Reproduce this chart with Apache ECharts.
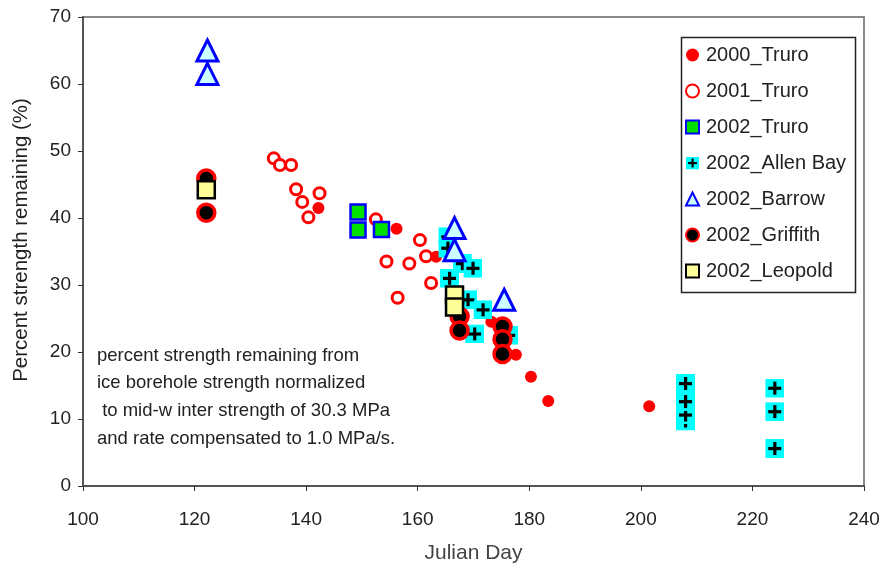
<!DOCTYPE html>
<html><head><meta charset="utf-8">
<script src="https://cdn.jsdelivr.net/npm/echarts@6/dist/echarts.min.js"></script>
<style>html,body{margin:0;padding:0;background:#fff}#c{width:887px;height:571px}</style>
</head><body><div id="c"></div>
<script>
// ---- data ----
const truro2000 = [[142.2,41.5],[156.2,38.4],[163.3,34.2],[173.2,24.5],[177.6,19.6],[180.3,16.3],[183.4,12.7],[201.5,11.9]];
const truro2001 = [[134.2,48.9],[135.3,47.9],[137.3,47.9],[138.2,44.3],[139.3,42.4],[142.4,43.7],[140.4,40.1],[152.5,39.8],[160.4,36.7],[161.5,34.3],[154.4,33.5],[158.5,33.2],[162.4,30.3],[156.4,28.1]];
const truro2002 = [[149.3,40.9],[149.3,38.2],[153.5,38.3]];
const allenBay = [[165.4,37.2],[165.4,35.5],[168,33.2],[169.9,32.5],[165.7,31.0],[169,27.8],[171.7,26.3],[170.2,22.7],[176.3,22.5],[208,9.7],[208,10.6],[208,13.7],[208,12.6],[208,15.3],[224,14.6],[224,11.1],[224,5.6]];
const barrow = [[122.3,65.0],[122.3,61.5],[166.6,38.5],[166.6,35.2],[175.5,27.8]];
const griffith = [[122.1,45.9],[122.1,40.8],[167.5,25.3],[167.5,23.2],[175.2,23.8],[175.2,21.9],[175.2,19.7]];
const leopold = [[122.1,44.2],[166.6,28.5],[166.6,26.7]];
const seriesNames = ['2000_Truro','2001_Truro','2002_Truro','2002_Allen Bay','2002_Barrow','2002_Griffith','2002_Leopold'];
const xTicks = {min:100, max:240, interval:20};
const yTicks = {min:0, max:70, interval:10};
const xTitle = 'Julian Day';
const yTitle = 'Percent strength remaining (%)';
const noteLines = ['percent strength remaining from','ice borehole strength normalized',' to mid-w inter strength of 30.3 MPa','and rate compensated to 1.0 MPa/s.'];

const FONT = '"Liberation Sans", Arial, sans-serif';
const plusSvg = '<svg xmlns="http://www.w3.org/2000/svg" width="19" height="19" viewBox="0 0 19 19"><rect x="0" y="0" width="19" height="19" fill="#00ffff"/><rect x="3" y="8" width="13" height="3.2" fill="#000"/><rect x="8" y="3" width="3.2" height="13" fill="#000"/></svg>';
const plusSym = 'image://data:image/svg+xml;charset=utf-8,' + encodeURIComponent(plusSvg);

const chart = echarts.init(document.getElementById('c'), null, {renderer:'canvas'});
chart.setOption({
  animation:false,
  backgroundColor:'#fff',
  grid:{left:83, right:23, top:17, bottom:85, show:true, borderColor:'#8a8a8a', borderWidth:2},
  xAxis:{type:'value', min:xTicks.min, max:xTicks.max, interval:xTicks.interval,
    name:xTitle, nameLocation:'middle', nameGap:57,
    nameTextStyle:{fontFamily:FONT, fontSize:21, color:'#444'},
    axisLine:{show:true, onZero:false, lineStyle:{color:'#555', width:2}},
    axisTick:{show:true, length:5, lineStyle:{color:'#333'}},
    axisLabel:{fontFamily:FONT, fontSize:19, color:'#222', margin:24},
    splitLine:{show:false}},
  yAxis:{type:'value', min:yTicks.min, max:yTicks.max, interval:yTicks.interval,
    axisLine:{show:true, onZero:false, lineStyle:{color:'#555', width:2}},
    axisTick:{show:true, length:5, lineStyle:{color:'#333'}},
    axisLabel:{fontFamily:FONT, fontSize:19, color:'#222', margin:12},
    splitLine:{show:false}},
  legend:{orient:'vertical', left:685, top:45, padding:0, itemWidth:13, itemHeight:13, itemGap:16,
    data:seriesNames, textStyle:{fontFamily:FONT, fontSize:20, color:'#222', padding:[0,0,0,2]}},
  graphic:[
    {type:'rect', left:679, top:35, shape:{width:174, height:255}, style:{fill:'none', stroke:'#222', lineWidth:1.5}, z:1},
    {type:'text', x:21, y:240, rotation:Math.PI/2, style:{text:yTitle, fontFamily:FONT, fontSize:20.5, fill:'#222', align:'center', verticalAlign:'middle'}},
    ...noteLines.map((t,i)=>({type:'text', left:97, top:346+i*27.7, style:{text:t, fontFamily:FONT, fontSize:18.5, fill:'#222'}}))
  ],
  series:[
    {name:seriesNames[0], type:'scatter', data:truro2000, symbol:'circle', symbolSize:12, itemStyle:{color:'#ff0000', opacity:1}},
    {name:seriesNames[1], type:'scatter', data:truro2001, symbol:'circle', symbolSize:11, itemStyle:{color:'#fff', borderColor:'#ff0000', borderWidth:3, opacity:1}},
    {name:seriesNames[2], type:'scatter', data:truro2002, symbol:'rect', symbolSize:15, itemStyle:{color:'#00e000', borderColor:'#0000ff', borderWidth:2.5, opacity:1}},
    {name:seriesNames[3], type:'scatter', data:allenBay, symbol:plusSym, symbolSize:19, itemStyle:{color:'#00ffff', opacity:1}},
    {name:seriesNames[4], type:'scatter', data:barrow, symbol:'triangle', symbolSize:[21,21], itemStyle:{color:'#ccffff', borderColor:'#0000ff', borderWidth:3, opacity:1}},
    {name:seriesNames[5], type:'scatter', data:griffith, symbol:'circle', symbolSize:17, itemStyle:{color:'#000', borderColor:'#ff0000', borderWidth:3.5, opacity:1}},
    {name:seriesNames[6], type:'scatter', data:leopold, symbol:'rect', symbolSize:17, itemStyle:{color:'#ffff99', borderColor:'#000', borderWidth:2.5, opacity:1}}
  ]
});
</script></body></html>
